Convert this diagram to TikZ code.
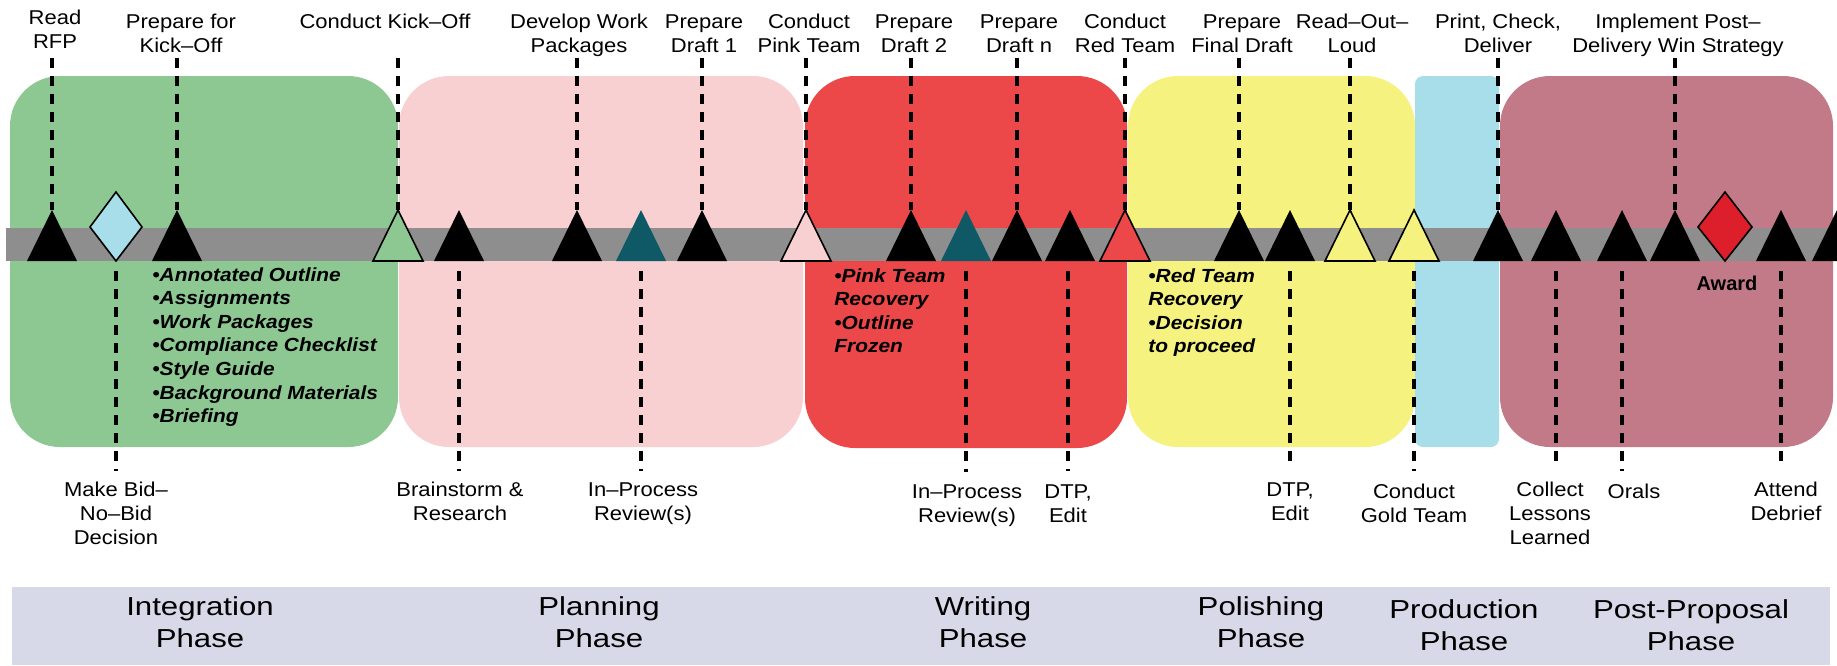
\documentclass[tikz,border=0pt]{standalone}
\usepackage{fontspec}
\setmainfont{Liberation Sans}
\newfontfamily\lblfont[FakeStretch=1.1]{Liberation Sans}
\newfontfamily\phfont[FakeStretch=1.2]{Liberation Sans}

\definecolor{grnbox}{HTML}{8DC893}
\definecolor{pnkbox}{HTML}{F8D0D2}
\definecolor{redbox}{HTML}{EC4849}
\definecolor{ylwbox}{HTML}{F5F27F}
\definecolor{blubox}{HTML}{A7DEEA}
\definecolor{mvbox}{HTML}{C27A88}
\definecolor{bandgray}{HTML}{8E8E8E}
\definecolor{phasebar}{HTML}{D7D8E8}
\definecolor{tealtri}{HTML}{0F5866}
\definecolor{awardred}{HTML}{DC1F2A}

% centred / left aligned multi-line text whose baseline is the first line
\newcommand\cstack[1]{\begin{tabular}[t]{@{}c@{}}#1\end{tabular}}
\newcommand\lstack[1]{\begin{tabular}[t]{@{}l@{}}#1\end{tabular}}

% milestone triangle: name, x position, fill style
\newcommand\milestone[3]{%
  \coordinate (#1) at (#2,210);
  \path[#3] ({#2-25},261) -- (#1) -- ({#2+25},261) -- cycle;}
% dashed leader from the top labels down to a milestone
\newcommand\upleader[2]{%
  \coordinate (#1-u) at (#2,58);
  \draw[dline] (#1-u) -- (#1);}
% dashed leader from under the band down to the lower labels
\newcommand\downleader[3]{%
  \coordinate (#1-s) at (#2,271);
  \coordinate (#1-e) at (#2,#3);
  \draw[dline] (#1-s) -- (#1-e);}

\begin{document}
\begin{tikzpicture}[x=0.5pt,y=-0.5pt,
  phasebox/.style={rounded corners=25pt},
  dline/.style={line width=1.7pt, dash pattern=on 5pt off 4pt},
  blk/.style={fill=black},
  teal/.style={fill=tealtri},
  otri/.style={fill=#1, draw=black, line width=0.8pt, line join=miter},
  lbl/.style={font=\lblfont\fontsize{10}{12}\selectfont, inner sep=0pt, anchor=base},
  blt/.style={font=\lblfont\fontsize{9.5}{11.8}\selectfont\bfseries\itshape, inner sep=0pt, anchor=base west},
  ph/.style={font=\phfont\fontsize{13}{16}\selectfont, inner sep=0pt, anchor=base}]

\useasboundingbox (0,0) rectangle (1837,665);
\clip (0,0) rectangle (1837,665);

% phase backgrounds
\fill[grnbox, phasebox] (10,76) rectangle (398,447);
\fill[pnkbox, phasebox] (399,76) rectangle (803,447);
\fill[redbox, phasebox] (805,76) rectangle (1127,448);
\fill[ylwbox, phasebox] (1128,76) rectangle (1415,447);
\fill[blubox, rounded corners=4pt] (1415,76) rectangle (1499,447);
\fill[mvbox, phasebox] (1500,76) rectangle (1833,447);

% timeline band
\fill[bandgray] (6,228) rectangle (1837,261);

% milestones on the band
\milestone{m1}{52}{blk}
\milestone{m3}{177}{blk}
\milestone{m4}{398}{otri=grnbox}
\milestone{m5}{459}{blk}
\milestone{m6}{577}{blk}
\milestone{m7}{641}{teal}
\milestone{m8}{702}{blk}
\milestone{m9}{806}{otri=pnkbox}
\milestone{m10}{911}{blk}
\milestone{m11}{966}{teal}
\milestone{m12}{1017}{blk}
\milestone{m13}{1070}{blk}
\milestone{m14}{1125}{otri=redbox}
\milestone{m15}{1239}{blk}
\milestone{m16}{1290}{blk}
\milestone{m17}{1350}{otri=ylwbox}
\milestone{m18}{1414}{otri=ylwbox}
\milestone{m19}{1498}{blk}
\milestone{m20}{1556}{blk}
\milestone{m21}{1622}{blk}
\milestone{m22}{1675}{blk}
\milestone{m24}{1781}{blk}
\milestone{m25}{1837}{blk}

% decision diamonds
\coordinate (m2) at (116,192);
\path[fill=blubox, draw=black, line width=0.8pt] (m2) -- (142,227) -- (116,261) -- (90,227) -- cycle;
\coordinate (m23) at (1725,192);
\path[fill=awardred, draw=black, line width=0.8pt] (m23) -- (1752,227) -- (1725,261) -- (1698,227) -- cycle;

% leaders above the band
\upleader{m1}{52}
\upleader{m3}{177}
\upleader{m4}{398}
\upleader{m6}{577}
\upleader{m8}{702}
\upleader{m9}{806}
\upleader{m10}{911}
\upleader{m12}{1017}
\upleader{m14}{1125}
\upleader{m15}{1239}
\upleader{m17}{1350}
\upleader{m19}{1498}
\upleader{m22}{1675}

% leaders below the band
\downleader{m2}{116}{471}
\downleader{m5}{459}{471}
\downleader{m7}{641}{471}
\downleader{m11}{966}{472}
\downleader{m13}{1068}{471}
\downleader{m16}{1290}{468}
\downleader{m18}{1414}{471}
\downleader{m20}{1556}{468}
\downleader{m21}{1622}{471}
\downleader{m24}{1781}{468}

% activity labels above
\node[lbl] (tRead)   at (55,24)   {\cstack{Read\\RFP}};
\node[lbl] (tPrepKO) at (181,28)  {\cstack{Prepare for\\Kick–Off}};
\node[lbl] (tConKO)  at (385,28)  {Conduct Kick–Off};
\node[lbl] (tDevWP)  at (579,28)  {\cstack{Develop Work\\Packages}};
\node[lbl] (tDraft1) at (704,28)  {\cstack{Prepare\\Draft 1}};
\node[lbl] (tPink)   at (809,28)  {\cstack{Conduct\\Pink Team}};
\node[lbl] (tDraft2) at (914,28)  {\cstack{Prepare\\Draft 2}};
\node[lbl] (tDraftn) at (1019,28) {\cstack{Prepare\\Draft n}};
\node[lbl] (tRed)    at (1125,28) {\cstack{Conduct\\Red Team}};
\node[lbl] (tFinal)  at (1242,28) {\cstack{Prepare\\Final Draft}};
\node[lbl] (tROL)    at (1352,28) {\cstack{Read–Out–\\Loud}};
\node[lbl] (tPrint)  at (1498,28) {\cstack{Print, Check,\\Deliver}};
\node[lbl] (tImpl)   at (1678,28) {\cstack{Implement Post–\\Delivery Win Strategy}};

% activity labels below
\node[lbl] (bBid)     at (116,496)  {\cstack{Make Bid–\\No–Bid\\Decision}};
\node[lbl] (bBrain)   at (460,496)  {\cstack{Brainstorm \&\\Research}};
\node[lbl] (bIPR1)    at (643,496)  {\cstack{In–Process\\Review(s)}};
\node[lbl] (bIPR2)    at (967,498)  {\cstack{In–Process\\Review(s)}};
\node[lbl] (bDTP1)    at (1068,498) {\cstack{DTP,\\Edit}};
\node[lbl] (bDTP2)    at (1290,496) {\cstack{DTP,\\Edit}};
\node[lbl] (bGold)    at (1414,498) {\cstack{Conduct\\Gold Team}};
\node[lbl] (bCollect) at (1550,496) {\cstack{Collect\\Lessons\\Learned}};
\node[lbl] (bOrals)   at (1634,498) {Orals};
\node[lbl] (bAttend)  at (1786,496) {\cstack{Attend\\Debrief}};
\node[lbl, font=\fontsize{10}{12}\selectfont\bfseries] (bAward) at (1727,290) {Award};

% deliverables inside the phases
\node[blt] (lInt) at (152,281) {\lstack{•Annotated Outline\\•Assignments\\•Work Packages\\•Compliance Checklist\\•Style Guide\\•Background Materials\\•Briefing}};
\node[blt] (lPink) at (834,282) {\lstack{•Pink Team\\Recovery\\•Outline\\Frozen}};
\node[blt] (lRed) at (1148,282) {\lstack{•Red Team\\Recovery\\•Decision\\to proceed}};

% phase names
\fill[phasebar] (12,587) rectangle (1830,665);
\node[ph] (pInt)   at (200,615)  {\cstack{Integration\\Phase}};
\node[ph] (pPlan)  at (599,615)  {\cstack{Planning\\Phase}};
\node[ph] (pWrite) at (983,615)  {\cstack{Writing\\Phase}};
\node[ph] (pPol)   at (1261,615) {\cstack{Polishing\\Phase}};
\node[ph] (pProd)  at (1464,618) {\cstack{Production\\Phase}};
\node[ph] (pPost)  at (1691,618) {\cstack{Post-Proposal\\Phase}};
\end{tikzpicture}
\end{document}
